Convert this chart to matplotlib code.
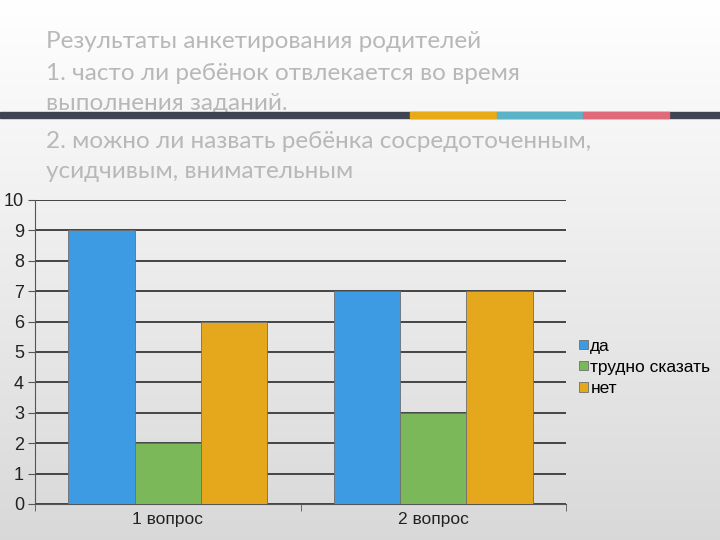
import numpy as np
import matplotlib.pyplot as plt

categories = ['1 вопрос', '2 вопрос']
series_names = ['да', 'трудно сказать', 'нет']
values = [[9, 7], [2, 3], [6, 7]]
colors = ['#3d9be3', '#7ab85a', '#e5a81c']
title_lines = ['Результаты анкетирования родителей',
               '1. часто ли ребёнок отвлекается во время',
               'выполнения заданий.',
               '2. можно ли назвать ребёнка сосредоточенным,',
               'усидчивым, внимательным']

fig = plt.figure(figsize=(7.2, 5.4), dpi=100)

# background gradient
bg = fig.add_axes([0, 0, 1, 1], zorder=-10)
grad = np.linspace(1.0, 0.85, 256).reshape(-1, 1)
bg.imshow(np.dstack([grad, grad, grad]), aspect='auto', extent=[0, 1, 0, 1])
bg.set_xlim(0, 1)
bg.set_ylim(0, 1)
bg.axis('off')

# title text
for i, line in enumerate(title_lines):
    y = [42, 73, 103, 142, 171][i]
    bg.text(46 / 720, 1 - y / 540, line, fontsize=17.5, color='#b8b8b8',
            family='Lato', va='center', ha='left', zorder=1)

# decorative stripe
bg.axhspan(1 - 118 / 540, 1 - 112 / 540, color='#3e4451', zorder=2)
for x1, x2, c in [(410, 497, '#e8aa16'), (497, 583, '#5bb3c7'), (583, 669, '#e06a7a')]:
    bg.axhspan(1 - 118 / 540, 1 - 112 / 540, xmin=x1 / 720, xmax=x2 / 720, color=c, zorder=3)

ax = fig.add_axes([35 / 720, 36 / 540, 531 / 720, 304 / 540])
ax.patch.set_alpha(0)
x = np.arange(len(categories))
w = 0.25
for i, name in enumerate(series_names):
    ax.bar(x + (i - 1) * w, values[i], w, color=colors[i], label=name,
           edgecolor='#6e6e6e', linewidth=0.6, zorder=3)

ax.set_xlim(-0.5, 1.5)
ax.set_ylim(0, 10)
ax.set_yticks(range(11))
ax.yaxis.grid(True, color='#444444', linewidth=1.4, zorder=0)
ax.set_xticks(x)
ax.set_xticklabels(categories)
ax.set_xticks([-0.5, 0.5, 1.5], minor=True)
ax.tick_params(axis='x', which='major', length=0, labelsize=12.5, pad=6)
ax.tick_params(axis='x', which='minor', length=5, color='#555555')
ax.tick_params(axis='y', length=5, labelsize=13, color='#555555', pad=3)
for lab in ax.get_xticklabels() + ax.get_yticklabels():
    lab.set_family('Liberation Sans')
    lab.set_color('#222222')
for s in ['top', 'right']:
    ax.spines[s].set_visible(False)
ax.spines['left'].set_color('#555555')
ax.spines['bottom'].set_color('#555555')

leg = ax.legend(loc='center left', bbox_to_anchor=(1.0, 0.45), frameon=False,
                handlelength=0.5, handleheight=0.5, handletextpad=0.15,
                labelspacing=0.35, borderaxespad=0.45, borderpad=0.3,
                prop={'family': 'Liberation Sans', 'size': 12.5})

fig.savefig('out.png', dpi=100)
